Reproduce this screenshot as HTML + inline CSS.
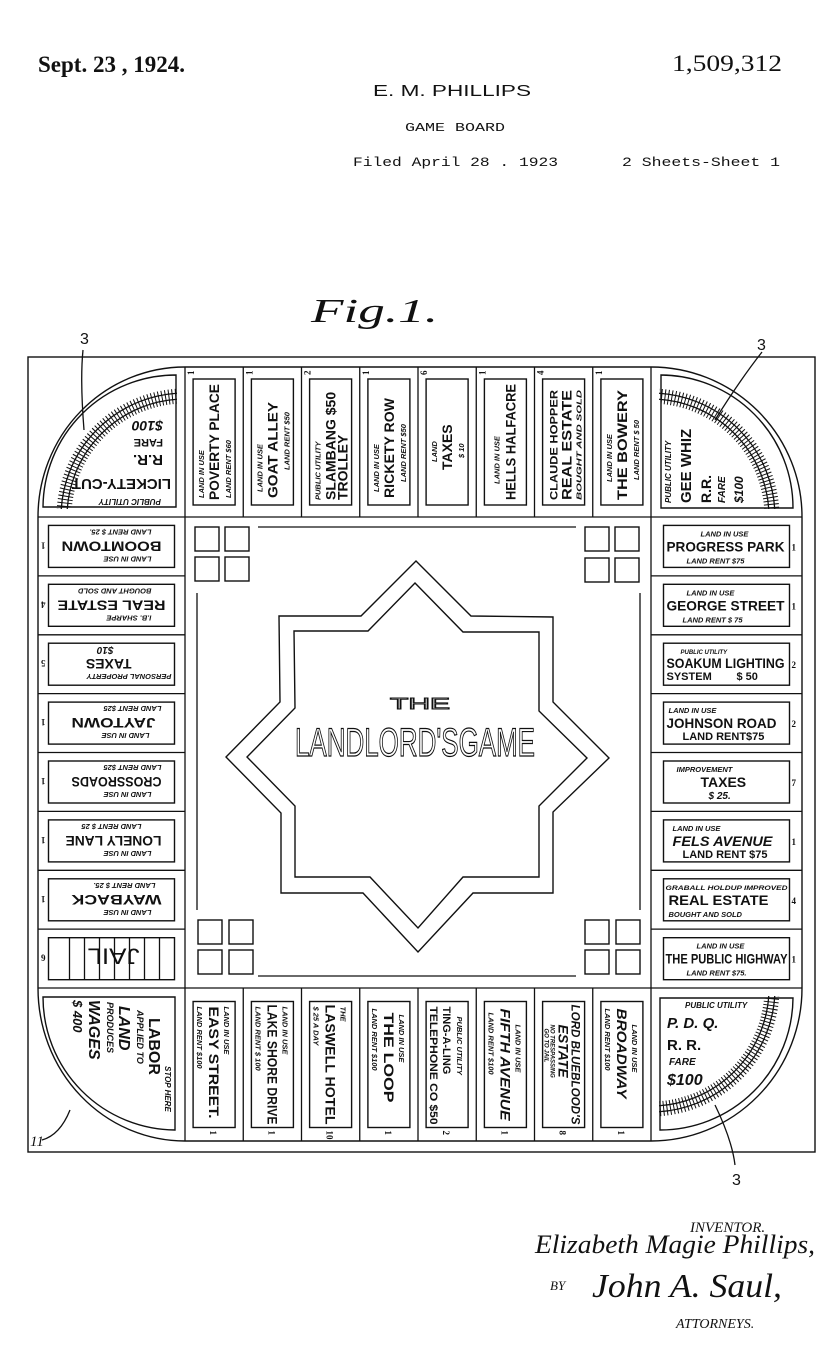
<!DOCTYPE html>
<html><head><meta charset="utf-8"><style>
html,body{margin:0;padding:0;background:#fff;}
svg{display:block;}
text{fill:#111;font-family:"Liberation Sans Narrow","Liberation Sans",sans-serif;font-weight:bold;}
.a{font-size:7.5px;font-style:italic;}
.b{font-size:14px;}
.c{font-size:7.5px;font-style:italic;}
.n{font-size:9px;font-family:"Liberation Serif",serif;}
.r{fill:none;stroke:#111;stroke-width:1.4;}
.l{stroke:#111;stroke-width:1.3;fill:none;}
</style></head><body>
<svg width="839" height="1371" viewBox="0 0 839 1371" xmlns="http://www.w3.org/2000/svg">
<defs>
<clipPath id="q"><rect x="8" y="8" width="150" height="150"/></clipPath>
</defs>
<!-- header -->
<text x="38" y="72" style="font-family:'Liberation Serif',serif;font-size:23px;font-weight:bold">Sept. 23 , 1924.</text>
<text x="672" y="71" style="font-family:'Liberation Serif',serif;font-size:23px;font-weight:normal" textLength="110" lengthAdjust="spacingAndGlyphs">1,509,312</text>
<text x="373" y="96" style="font-family:'Liberation Sans',sans-serif;font-size:16px;font-weight:normal" textLength="158" lengthAdjust="spacingAndGlyphs">E. M. PHILLIPS</text>
<text x="405" y="131" style="font-family:'Liberation Mono',monospace;font-size:12px;font-weight:normal" textLength="100" lengthAdjust="spacingAndGlyphs">GAME BOARD</text>
<text x="353" y="166" style="font-family:'Liberation Mono',monospace;font-size:13px;font-weight:normal" textLength="205" lengthAdjust="spacingAndGlyphs">Filed April 28 . 1923</text>
<text x="622" y="166" style="font-family:'Liberation Mono',monospace;font-size:13px;font-weight:normal" textLength="158" lengthAdjust="spacingAndGlyphs">2 Sheets-Sheet 1</text>
<text x="311" y="322" style="font-family:'Liberation Serif',serif;font-size:34px;font-style:italic;font-weight:normal" textLength="127" lengthAdjust="spacingAndGlyphs">Fig.1.</text>
<text x="80" y="344" style="font-family:'Liberation Sans',sans-serif;font-size:16px;font-weight:normal">3</text>
<text x="757" y="350" style="font-family:'Liberation Sans',sans-serif;font-size:16px;font-weight:normal">3</text>
<text x="732" y="1185" style="font-family:'Liberation Sans',sans-serif;font-size:16px;font-weight:normal">3</text>
<text x="30" y="1146" style="font-family:'Liberation Serif',serif;font-size:15px;font-style:italic;font-weight:normal">11</text>
<path class="l" d="M83,350 Q80,380 84,430" />
<path class="l" d="M762,352 Q740,380 715,420" />
<path class="l" d="M735,1165 Q732,1140 715,1105" />
<path class="l" d="M42,1140 Q60,1135 70,1110" />

<!-- board frame -->
<rect x="28" y="357" width="787" height="795" class="r" stroke-width="2"/>
<path class="r" d="M38,517 A147,150 0 0 1 185,367 L651,367 A151,150 0 0 1 802,517 L802,988 A151,153 0 0 1 651,1141 L185,1141 A147,153 0 0 1 38,988 Z"/>
<path class="l" d="M185,367V517 M243.25,367V517 M301.5,367V517 M359.75,367V517 M418,367V517 M476.25,367V517 M534.5,367V517 M592.75,367V517 M651,367V517
M185,988V1141 M243.25,988V1141 M301.5,988V1141 M359.75,988V1141 M418,988V1141 M476.25,988V1141 M534.5,988V1141 M592.75,988V1141 M651,988V1141
M38,517H802 M38,988H802 M185,517V988 M651,517V988
M38,575.9H185 M38,634.8H185 M38,693.6H185 M38,752.5H185 M38,811.4H185 M38,870.3H185 M38,929.1H185
M651,575.9H802 M651,634.8H802 M651,693.6H802 M651,752.5H802 M651,811.4H802 M651,870.3H802 M651,929.1H802"/>

<!-- center -->
<path class="l" d="M258,527H576 M258,976H576 M197,593V910 M640,593V910"/>
<g class="r" stroke-width="1.3">
<rect x="195" y="527" width="24" height="24"/><rect x="225" y="527" width="24" height="24"/><rect x="195" y="557" width="24" height="24"/><rect x="225" y="557" width="24" height="24"/>
<rect x="585" y="527" width="24" height="24"/><rect x="615" y="527" width="24" height="24"/><rect x="585" y="558" width="24" height="24"/><rect x="615" y="558" width="24" height="24"/>
<rect x="198" y="920" width="24" height="24"/><rect x="229" y="920" width="24" height="24"/><rect x="198" y="950" width="24" height="24"/><rect x="229" y="950" width="24" height="24"/>
<rect x="585" y="920" width="24" height="24"/><rect x="616" y="920" width="24" height="24"/><rect x="585" y="950" width="24" height="24"/><rect x="616" y="950" width="24" height="24"/>
</g>
<polygon class="r" points="416,561 471,616 553,617 553,702 609,758 553,812 553,893 473,893 418,952 363,893 281,893 281,813 226,757 280,702 279,616 361,616"/>
<polygon class="r" points="415,583 463,632 539,632 539,711 587,758 539,806 539,877 463,877 418,928 370,877 295,877 295,806 247,757 295,708 294,631 368,631"/>
<text x="390" y="709" style="font-family:'Liberation Sans',sans-serif;font-size:16px;font-weight:normal;fill:#fff;stroke:#111;stroke-width:1" textLength="60" lengthAdjust="spacingAndGlyphs">THE</text>
<text x="295" y="756" style="font-family:'Liberation Sans Narrow','Liberation Sans',sans-serif;font-size:40px;font-weight:normal;fill:#fff;stroke:#111;stroke-width:1.2" textLength="240" lengthAdjust="spacingAndGlyphs">LANDLORD'SGAME</text>

<!-- corners -->
<g transform="translate(651,988)">
<path class="r" d="M9,10H142A133,133 0 0 1 9,142Z"/>
<g clip-path="url(#q)"><circle r="118" class="l" stroke-width="0.9"/><circle r="124" class="l" stroke-width="0.9"/><circle r="121" fill="none" stroke="#111" stroke-width="15" stroke-dasharray="1 2.4"/></g>
<text x="34" y="20" class="a" style="font-size:8px">PUBLIC UTILITY</text>
<text x="16" y="40" style="font-size:15px;font-style:italic;font-family:'Liberation Sans',sans-serif">P. D. Q.</text>
<text x="16" y="62" style="font-size:15px;font-family:'Liberation Sans',sans-serif">R. R.</text>
<text x="18" y="77" class="a" style="font-size:10px">FARE</text>
<text x="16" y="97" style="font-size:16px;font-style:italic;font-family:'Liberation Sans',sans-serif">$100</text>
</g>
<g transform="translate(185,517) rotate(180)">
<path class="r" d="M9,10H142A133,133 0 0 1 9,142Z"/>
<g clip-path="url(#q)"><circle r="118" class="l" stroke-width="0.9"/><circle r="124" class="l" stroke-width="0.9"/><circle r="121" fill="none" stroke="#111" stroke-width="15" stroke-dasharray="1 2.4"/></g>
<text x="24" y="18" class="a" style="font-size:8px">PUBLIC UTILITY</text>
<text x="14" y="38" style="font-size:15px;font-family:'Liberation Sans',sans-serif">LICKETY-CUT</text>
<text x="22" y="62" style="font-size:15px;font-family:'Liberation Sans',sans-serif">R.R.</text>
<text x="22" y="78" style="font-size:11px">FARE</text>
<text x="22" y="96" style="font-size:14px;font-style:italic">$100</text>
</g>
<g transform="translate(651,517) rotate(-90)">
<path class="r" d="M9,10H142A133,133 0 0 1 9,142Z"/>
<g clip-path="url(#q)"><circle r="118" class="l" stroke-width="0.9"/><circle r="124" class="l" stroke-width="0.9"/><circle r="121" fill="none" stroke="#111" stroke-width="15" stroke-dasharray="1 2.4"/></g>
<text x="14" y="20" class="a" style="font-size:8px">PUBLIC UTILITY</text>
<text x="14" y="40" style="font-size:15px;font-family:'Liberation Sans',sans-serif">GEE WHIZ</text>
<text x="14" y="60" style="font-size:14px">R.R.</text>
<text x="14" y="74" class="a" style="font-size:10px">FARE</text>
<text x="14" y="92" style="font-size:12px;font-style:italic">$100</text>
</g>
<g transform="translate(185,988) rotate(90)">
<path class="r" d="M9,10H142A133,133 0 0 1 9,142Z"/>
<text x="78" y="20" class="a" style="font-size:8px">STOP HERE</text>
<text x="30" y="36" style="font-size:16px;font-family:'Liberation Sans',sans-serif">LABOR</text>
<text x="22" y="48" class="a" style="font-size:9px">APPLIED TO</text>
<text x="18" y="66" style="font-size:16px;font-style:italic">LAND</text>
<text x="14" y="78" class="a" style="font-size:9px">PRODUCES</text>
<text x="12" y="96" style="font-size:16px;font-style:italic">WAGES</text>
<text x="12" y="112" style="font-size:13px;font-style:italic">$ 400</text>
</g>

<!-- TOP ROW -->
<g transform="translate(214.1,442) rotate(-90)"><rect class="r" x="-63" y="-21" width="126" height="42"/><text class="a" x="-56" y="-10">LAND IN USE</text><text class="b" x="-58" y="5" textLength="116" lengthAdjust="spacingAndGlyphs">POVERTY PLACE</text><text class="c" x="-56" y="17">LAND RENT $60</text><text class="n" x="67" y="-20">1</text></g>
<g transform="translate(272.4,442) rotate(-90)"><rect class="r" x="-63" y="-21" width="126" height="42"/><text class="a" x="-50" y="-10">LAND IN USE</text><text class="b" x="-56" y="5" textLength="96" lengthAdjust="spacingAndGlyphs">GOAT ALLEY</text><text class="c" x="-28" y="17">LAND RENT $50</text><text class="n" x="67" y="-20">1</text></g>
<g transform="translate(330.6,442) rotate(-90)"><rect class="r" x="-63" y="-21" width="126" height="42"/><text class="a" x="-58" y="-10">PUBLIC UTILITY</text><text class="b" x="-58" y="5">SLAMBANG  $50</text><text class="b" x="-58" y="17">TROLLEY</text><text class="n" x="67" y="-20">2</text></g>
<g transform="translate(388.9,442) rotate(-90)"><rect class="r" x="-63" y="-21" width="126" height="42"/><text class="a" x="-50" y="-10">LAND IN USE</text><text class="b" x="-56" y="5" textLength="100" lengthAdjust="spacingAndGlyphs">RICKETY ROW</text><text class="c" x="-40" y="17">LAND RENT $50</text><text class="n" x="67" y="-20">1</text></g>
<g transform="translate(447.1,442) rotate(-90)"><rect class="r" x="-63" y="-21" width="126" height="42"/><text class="a" x="-20" y="-10">LAND</text><text class="b" x="-28" y="5">TAXES</text><text class="c" x="-16" y="17">$ 10</text><text class="n" x="67" y="-20">6</text></g>
<g transform="translate(505.4,442) rotate(-90)"><rect class="r" x="-63" y="-21" width="126" height="42"/><text class="a" x="-42" y="-6">LAND IN USE</text><text class="b" x="-58" y="10" textLength="116" lengthAdjust="spacingAndGlyphs">HELLS HALFACRE</text><text class="n" x="67" y="-20">1</text></g>
<g transform="translate(563.6,442) rotate(-90)"><rect class="r" x="-63" y="-21" width="126" height="42"/><text class="b" x="-58" y="-6" style="font-size:11px" textLength="110" lengthAdjust="spacingAndGlyphs">CLAUDE HOPPER</text><text class="b" x="-58" y="8" textLength="110" lengthAdjust="spacingAndGlyphs">REAL ESTATE</text><text class="c" x="-58" y="18" textLength="110" lengthAdjust="spacingAndGlyphs">BOUGHT AND SOLD</text><text class="n" x="67" y="-20">4</text></g>
<g transform="translate(621.9,442) rotate(-90)"><rect class="r" x="-63" y="-21" width="126" height="42"/><text class="a" x="-40" y="-10">LAND IN USE</text><text class="b" x="-58" y="5" textLength="110" lengthAdjust="spacingAndGlyphs">THE BOWERY</text><text class="c" x="-38" y="17">LAND RENT $ 50</text><text class="n" x="67" y="-20">1</text></g>

<!-- RIGHT COLUMN -->
<g transform="translate(726.5,546.4)"><rect class="r" x="-63" y="-21" width="126" height="42"/><text class="a" x="-26" y="-10">LAND IN USE</text><text class="b" x="-60" y="5" textLength="118" lengthAdjust="spacingAndGlyphs">PROGRESS PARK</text><text class="c" x="-40" y="17">LAND RENT $75</text><text class="n" x="65" y="4">1</text></g>
<g transform="translate(726.5,605.3)"><rect class="r" x="-63" y="-21" width="126" height="42"/><text class="a" x="-40" y="-10">LAND IN USE</text><text class="b" x="-60" y="5" textLength="118" lengthAdjust="spacingAndGlyphs">GEORGE STREET</text><text class="c" x="-44" y="17">LAND RENT $ 75</text><text class="n" x="65" y="4">1</text></g>
<g transform="translate(726.5,664.2)"><rect class="r" x="-63" y="-21" width="126" height="42"/><text class="a" x="-46" y="-10" style="font-size:6px">PUBLIC UTILITY</text><text class="b" x="-60" y="4" textLength="118" lengthAdjust="spacingAndGlyphs">SOAKUM LIGHTING</text><text class="b" x="-60" y="16" style="font-size:11px">SYSTEM</text><text class="b" x="10" y="16" style="font-size:11px">$ 50</text><text class="n" x="65" y="4">2</text></g>
<g transform="translate(726.5,723.1)"><rect class="r" x="-63" y="-21" width="126" height="42"/><text class="a" x="-58" y="-10">LAND IN USE</text><text class="b" x="-60" y="5" textLength="110" lengthAdjust="spacingAndGlyphs">JOHNSON ROAD</text><text class="b" x="-44" y="17" style="font-size:11px">LAND RENT$75</text><text class="n" x="65" y="4">2</text></g>
<g transform="translate(726.5,782)"><rect class="r" x="-63" y="-21" width="126" height="42"/><text class="a" x="-50" y="-10">IMPROVEMENT</text><text class="b" x="-26" y="5">TAXES</text><text class="c" x="-18" y="17" style="font-size:10px">$ 25.</text><text class="n" x="65" y="4">7</text></g>
<g transform="translate(726.5,840.9)"><rect class="r" x="-63" y="-21" width="126" height="42"/><text class="a" x="-54" y="-10">LAND IN USE</text><text class="b" x="-54" y="5" style="font-style:italic" textLength="100" lengthAdjust="spacingAndGlyphs">FELS AVENUE</text><text class="b" x="-44" y="17" style="font-size:11px">LAND RENT $75</text><text class="n" x="65" y="4">1</text></g>
<g transform="translate(726.5,899.8)"><rect class="r" x="-63" y="-21" width="126" height="42"/><text class="a" x="-61" y="-10" style="font-size:6.5px" textLength="122" lengthAdjust="spacingAndGlyphs">GRABALL HOLDUP IMPROVED</text><text class="b" x="-58" y="5" textLength="100" lengthAdjust="spacingAndGlyphs">REAL ESTATE</text><text class="c" x="-58" y="17">BOUGHT AND SOLD</text><text class="n" x="65" y="4">4</text></g>
<g transform="translate(726.5,958.7)"><rect class="r" x="-63" y="-21" width="126" height="42"/><text class="a" x="-30" y="-10">LAND IN USE</text><text class="b" x="-61" y="5" textLength="122" lengthAdjust="spacingAndGlyphs">THE PUBLIC HIGHWAY</text><text class="c" x="-40" y="17">LAND RENT $75.</text><text class="n" x="65" y="4">1</text></g>

<!-- BOTTOM ROW -->
<g transform="translate(214.1,1064.5) rotate(90)"><rect class="r" x="-63" y="-21" width="126" height="42"/><text class="a" x="-58" y="-10">LAND IN USE</text><text class="b" x="-58" y="5" textLength="112" lengthAdjust="spacingAndGlyphs">EASY STREET.</text><text class="c" x="-58" y="17">LAND RENT $100</text><text class="n" x="66" y="4">1</text></g>
<g transform="translate(272.4,1064.5) rotate(90)"><rect class="r" x="-63" y="-21" width="126" height="42"/><text class="a" x="-58" y="-10">LAND IN USE</text><text class="b" x="-60" y="5" textLength="120" lengthAdjust="spacingAndGlyphs">LAKE SHORE DRIVE</text><text class="c" x="-58" y="17">LAND RENT $ 100</text><text class="n" x="66" y="4">1</text></g>
<g transform="translate(330.6,1064.5) rotate(90)"><rect class="r" x="-63" y="-21" width="126" height="42"/><text class="a" x="-58" y="-10">THE</text><text class="b" x="-60" y="5" textLength="120" lengthAdjust="spacingAndGlyphs">LASWELL HOTEL</text><text class="c" x="-58" y="17">$ 25 A DAY</text><text class="n" x="66" y="4">10</text></g>
<g transform="translate(388.9,1064.5) rotate(90)"><rect class="r" x="-63" y="-21" width="126" height="42"/><text class="a" x="-50" y="-10">LAND IN USE</text><text class="b" x="-52" y="5" textLength="90" lengthAdjust="spacingAndGlyphs">THE LOOP</text><text class="c" x="-56" y="17">LAND RENT $100</text><text class="n" x="66" y="4">1</text></g>
<g transform="translate(447.1,1064.5) rotate(90)"><rect class="r" x="-63" y="-21" width="126" height="42"/><text class="a" x="-48" y="-10">PUBLIC UTILITY</text><text class="b" x="-58" y="4" style="font-size:11px">TING-A-LING</text><text class="b" x="-58" y="17" style="font-size:11px" textLength="118" lengthAdjust="spacingAndGlyphs">TELEPHONE CO  $50</text><text class="n" x="66" y="4">2</text></g>
<g transform="translate(505.4,1064.5) rotate(90)"><rect class="r" x="-63" y="-21" width="126" height="42"/><text class="a" x="-40" y="-10">LAND IN USE</text><text class="b" x="-56" y="5" textLength="112" lengthAdjust="spacingAndGlyphs" style="font-style:italic">FIFTH AVENUE</text><text class="c" x="-52" y="17">LAND RENT $100</text><text class="n" x="66" y="4">1</text></g>
<g transform="translate(563.6,1064.5) rotate(90)"><rect class="r" x="-63" y="-21" width="126" height="42"/><text class="b" x="-60" y="-8" style="font-size:12px;font-style:italic" textLength="120" lengthAdjust="spacingAndGlyphs">LORD BLUEBLOOD'S</text><text class="b" x="-40" y="5" style="font-style:italic">ESTATE</text><text class="c" x="-40" y="13" style="font-size:6px">NO TRESPASSING</text><text class="c" x="-36" y="19" style="font-size:6px">GO TO JAIL</text><text class="n" x="66" y="4">8</text></g>
<g transform="translate(621.9,1064.5) rotate(90)"><rect class="r" x="-63" y="-21" width="126" height="42"/><text class="a" x="-40" y="-10">LAND IN USE</text><text class="b" x="-56" y="5" style="font-style:italic" textLength="90" lengthAdjust="spacingAndGlyphs">BROADWAY</text><text class="c" x="-56" y="17">LAND RENT $100</text><text class="n" x="66" y="4">1</text></g>

<!-- LEFT COLUMN -->
<g transform="translate(111.5,546.4) rotate(180)"><rect class="r" x="-63" y="-21" width="126" height="42"/><text class="a" x="-40" y="-10">LAND IN USE</text><text class="b" x="-50" y="5" textLength="100" lengthAdjust="spacingAndGlyphs">BOOMTOWN</text><text class="c" x="-40" y="17">LAND RENT $ 25.</text><text class="n" x="66" y="4">1</text></g>
<g transform="translate(111.5,605.3) rotate(180)"><rect class="r" x="-63" y="-21" width="126" height="42"/><text class="a" x="-40" y="-10">I.B. SHARPE</text><text class="b" x="-54" y="5" textLength="108" lengthAdjust="spacingAndGlyphs">REAL ESTATE</text><text class="c" x="-40" y="17">BOUGHT AND SOLD</text><text class="n" x="66" y="4">4</text></g>
<g transform="translate(111.5,664.2) rotate(180)"><rect class="r" x="-63" y="-21" width="126" height="42"/><text class="a" x="-60" y="-10">PERSONAL PROPERTY</text><text class="b" x="-20" y="5">TAXES</text><text class="c" x="-2" y="17" style="font-size:10px">$10</text><text class="n" x="66" y="4">5</text></g>
<g transform="translate(111.5,723.1) rotate(180)"><rect class="r" x="-63" y="-21" width="126" height="42"/><text class="a" x="-38" y="-10">LAND IN USE</text><text class="b" x="-44" y="5" textLength="84" lengthAdjust="spacingAndGlyphs">JAYTOWN</text><text class="c" x="-50" y="17">LAND RENT $25</text><text class="n" x="66" y="4">1</text></g>
<g transform="translate(111.5,782) rotate(180)"><rect class="r" x="-63" y="-21" width="126" height="42"/><text class="a" x="-40" y="-10">LAND IN USE</text><text class="b" x="-50" y="5" textLength="90" lengthAdjust="spacingAndGlyphs">CROSSROADS</text><text class="c" x="-50" y="17">LAND RENT $25</text><text class="n" x="66" y="4">1</text></g>
<g transform="translate(111.5,840.9) rotate(180)"><rect class="r" x="-63" y="-21" width="126" height="42"/><text class="a" x="-40" y="-10">LAND IN USE</text><text class="b" x="-50" y="5" textLength="96" lengthAdjust="spacingAndGlyphs">LONELY LANE</text><text class="c" x="-30" y="17">LAND RENT $ 25</text><text class="n" x="66" y="4">1</text></g>
<g transform="translate(111.5,899.8) rotate(180)"><rect class="r" x="-63" y="-21" width="126" height="42"/><text class="a" x="-40" y="-10">LAND IN USE</text><text class="b" x="-50" y="5" textLength="90" lengthAdjust="spacingAndGlyphs">WAYBACK</text><text class="c" x="-44" y="17">LAND RENT $ 25.</text><text class="n" x="66" y="4">1</text></g>
<g transform="translate(111.5,958.7) rotate(180)"><rect class="r" x="-63" y="-21" width="126" height="42"/>
<path class="l" d="M-48,-21V21 M-33,-21V21 M-18,-21V21 M-3,-21V21 M12,-21V21 M27,-21V21 M42,-21V21"/>
<text x="-28" y="10" style="font-size:22px;font-family:'Liberation Sans',sans-serif;font-weight:normal" textLength="52" lengthAdjust="spacingAndGlyphs">JAIL</text><text class="n" x="66" y="4">6</text></g>

<!-- signature -->
<text x="690" y="1232" style="font-family:'Liberation Serif',serif;font-size:15px;font-style:italic;font-weight:normal">INVENTOR.</text>
<text x="535" y="1253" style="font-family:'Liberation Serif',serif;font-size:26px;font-style:italic;font-weight:normal" textLength="280" lengthAdjust="spacingAndGlyphs">Elizabeth Magie Phillips,</text>
<text x="550" y="1290" style="font-family:'Liberation Serif',serif;font-size:13px;font-style:italic;font-weight:normal">BY</text>
<text x="592" y="1297" style="font-family:'Liberation Serif',serif;font-size:34px;font-style:italic;font-weight:normal" textLength="190" lengthAdjust="spacingAndGlyphs">John A. Saul,</text>
<text x="676" y="1328" style="font-family:'Liberation Serif',serif;font-size:14px;font-style:italic;font-weight:normal">ATTORNEYS.</text>
</svg>
</body></html>
